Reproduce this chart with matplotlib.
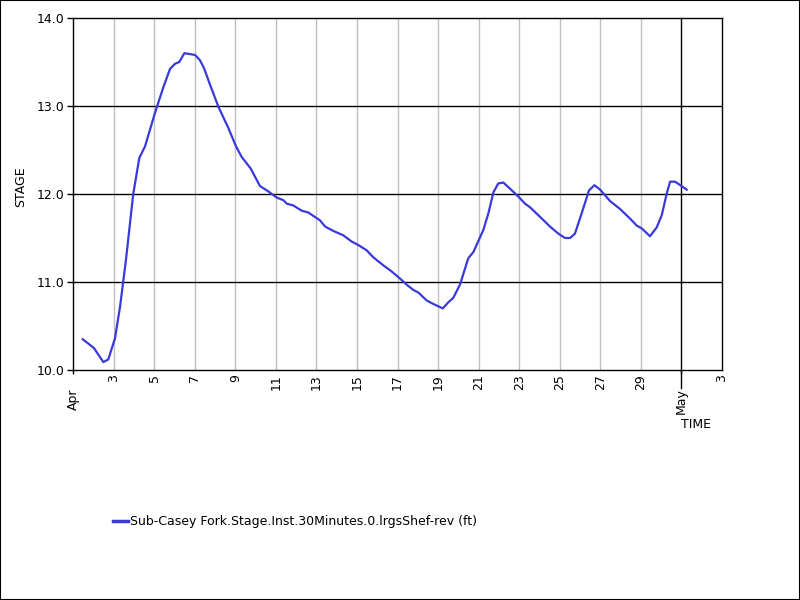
import matplotlib
matplotlib.use("Agg")
import matplotlib.pyplot as plt
import matplotlib.dates as mdates
from matplotlib.patches import Rectangle
import pandas as pd

# Time as day offsets from Apr 1 00:00
day_offsets = [0.48, 1.03, 1.50, 1.74, 2.07, 2.32, 2.61, 2.97, 3.27, 3.55, 4.04, 4.45, 4.78, 5.03,
               5.24, 5.49, 6.02, 6.26, 6.46, 6.76, 7.17, 7.66, 8.04, 8.32, 8.76, 9.22, 9.63, 10.04,
               10.37, 10.54, 10.86, 11.28, 11.60, 12.18, 12.43, 12.84, 13.33, 13.74, 14.07, 14.48,
               14.81, 15.30, 15.71, 16.12, 16.45, 16.78, 17.03, 17.44, 17.77, 18.23, 18.51, 18.75,
               19.08, 19.49, 19.74, 20.23, 20.48, 20.73, 20.97, 21.22, 21.55, 21.96, 22.29, 22.53,
               23.03, 23.52, 23.93, 24.26, 24.51, 24.75, 25.08, 25.44, 25.71, 25.99, 26.48, 26.97,
               27.47, 27.80, 28.04, 28.45, 28.78, 29.03, 29.27, 29.44, 29.69, 30.26]
stage = [10.35, 10.25, 10.09, 10.12, 10.36, 10.72, 11.25, 12.0, 12.41, 12.54, 12.92, 13.21, 13.42, 13.48,
         13.50, 13.60, 13.58, 13.52, 13.43, 13.24, 12.99, 12.75, 12.54, 12.42, 12.29, 12.09, 12.03, 11.96,
         11.93, 11.89, 11.87, 11.81, 11.79, 11.70, 11.63, 11.58, 11.53, 11.46, 11.42, 11.36,
         11.28, 11.19, 11.12, 11.04, 10.97, 10.91, 10.88, 10.79, 10.75, 10.70, 10.77, 10.82,
         10.97, 11.27, 11.34, 11.59, 11.78, 12.02, 12.12, 12.13, 12.06, 11.97, 11.89, 11.85,
         11.74, 11.63, 11.55, 11.50, 11.50, 11.55, 11.78, 12.04, 12.10, 12.05, 11.92, 11.83,
         11.72, 11.64, 11.61, 11.52, 11.62, 11.76, 12.0, 12.14, 12.14, 12.05]

series_label = "Sub-Casey Fork.Stage.Inst.30Minutes.0.lrgsShef-rev (ft)"
y_ticks = [10.0, 11.0, 12.0, 13.0, 14.0]
day_tick_dates = ["2024-04-%02d" % d for d in range(3, 30, 2)] + ["2024-05-03"]
day_tick_labels = [str(d) for d in range(3, 30, 2)] + ["3"]
month_tick_dates = ["2024-04-01", "2024-05-01"]
month_tick_labels = ["Apr", "May"]

start = pd.Timestamp("2024-04-01")
times = [start + pd.Timedelta(days=d) for d in day_offsets]

FONT = "DejaVu Sans"
plt.rcParams["font.family"] = FONT

fig = plt.figure(figsize=(8, 6), dpi=100)
ax = fig.add_axes([73 / 800, 1 - 370 / 600, (722 - 73) / 800, (370 - 18) / 600])

ax.plot(times, stage, color="#3a3adc", lw=1.6, zorder=3)

x0 = mdates.date2num(pd.Timestamp("2024-04-01"))
x1 = mdates.date2num(pd.Timestamp("2024-05-03"))
ax.set_xlim(x0, x1)
ax.set_ylim(10.0, 14.0)

# y axis
ax.set_yticks(y_ticks)
ax.set_yticklabels(["%.1f" % v for v in y_ticks], fontsize=9)
ax.tick_params(axis="y", direction="out", length=4, width=1, pad=2)
for yv in y_ticks[1:-1]:
    ax.axhline(yv, color="black", lw=1, zorder=2)

# x axis: day minor ticks, month major ticks
minor_pos = [mdates.date2num(pd.Timestamp(d)) for d in day_tick_dates]
major_pos = [mdates.date2num(pd.Timestamp(d)) for d in month_tick_dates]
ax.set_xticks(major_pos)
ax.set_xticklabels(month_tick_labels, rotation=90, fontsize=9, va="top", ha="center")
ax.set_xticks(minor_pos, minor=True)
ax.set_xticklabels(day_tick_labels, minor=True, rotation=90, fontsize=9, va="top", ha="center")
ax.tick_params(axis="x", which="minor", length=0, pad=3)
ax.tick_params(axis="x", which="major", length=3, width=1, pad=10)
for xp in minor_pos[:-1]:
    ax.axvline(xp, color="#c0c0c0", lw=1, zorder=1)
ax.axvline(major_pos[1], color="black", lw=1, ymin=-0.05, ymax=1, clip_on=False, zorder=2)

for s in ax.spines.values():
    s.set_color("black")
    s.set_linewidth(1)

fig.text(21 / 800, 1 - 187 / 600, "STAGE", rotation=90, fontsize=9, ha="center", va="center")
fig.text(681 / 800, 1 - 424 / 600, "TIME", fontsize=9, ha="left", va="center")

line_handle, = ax.plot([], [], color="#3a3adc", lw=2.5)
fig.legend([line_handle], [series_label], loc="center left",
           bbox_to_anchor=(113 / 800, 1 - 522 / 600), frameon=False,
           handlelength=1.2, handletextpad=0.2, borderpad=0, borderaxespad=0,
           prop={"family": FONT, "size": 9})

fig.patches.append(Rectangle((0, 0), 1, 1, transform=fig.transFigure, fill=False,
                             edgecolor="black", lw=1.5))

fig.savefig("out.png", dpi=100)
